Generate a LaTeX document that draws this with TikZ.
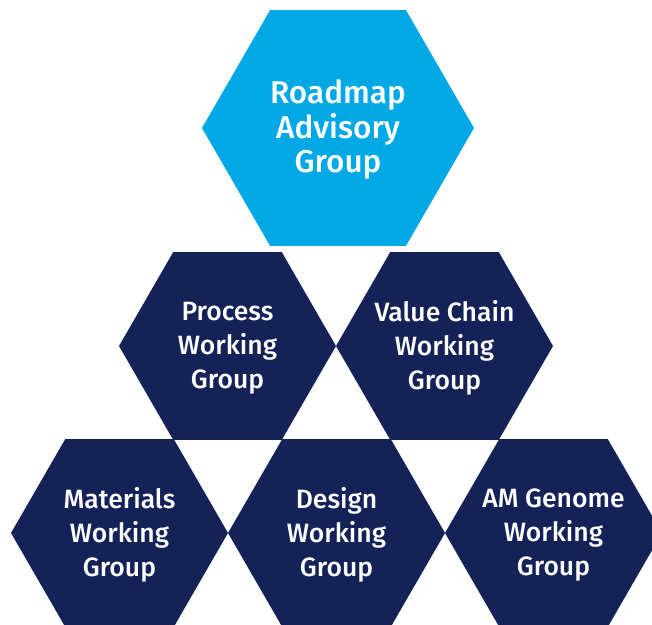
\documentclass[tikz,border=0pt]{standalone}
\usepackage{fontspec}
\setmainfont{Fira Sans Medium}
\usetikzlibrary{shapes.geometric}

\definecolor{advblue}{RGB}{0,169,230}
\definecolor{wgnavy}{RGB}{21,34,88}

\tikzset{
  hexcell/.style={regular polygon, regular polygon sides=6, inner sep=0pt, outer sep=0pt, draw=none},
  hexlabel/.style={text=white, align=center, inner sep=0pt, yshift=-2pt}
}

\begin{document}
\begin{tikzpicture}[x=1pt, y=-1pt]
    \useasboundingbox (0,0) rectangle (652,624);
    % top cell
    \node (RAG) at (338,128) [hexcell, fill=advblue, minimum size=272pt] {};
    \node (RAGtext) at (RAG) [hexlabel, font=\fontsize{31.5}{34.5}\selectfont] {Roadmap\\Advisory\\Group};
    % working groups
    \foreach \name/\x/\y/\txt in {Process/227.5/346/Process,
                                  Value/444.5/346/Value Chain,
                                  Materials/119.5/533/Materials,
                                  Design/336.5/533/Design,
                                  Genome/553.5/533/AM Genome} {
      \node (\name) at (\x,\y) [hexcell, fill=wgnavy, minimum size=217pt] {};
      \node (\name text) at (\name) [hexlabel, font=\fontsize{26.5}{34}\selectfont] {\txt\\Working\\Group};
    }
\end{tikzpicture}
\end{document}
